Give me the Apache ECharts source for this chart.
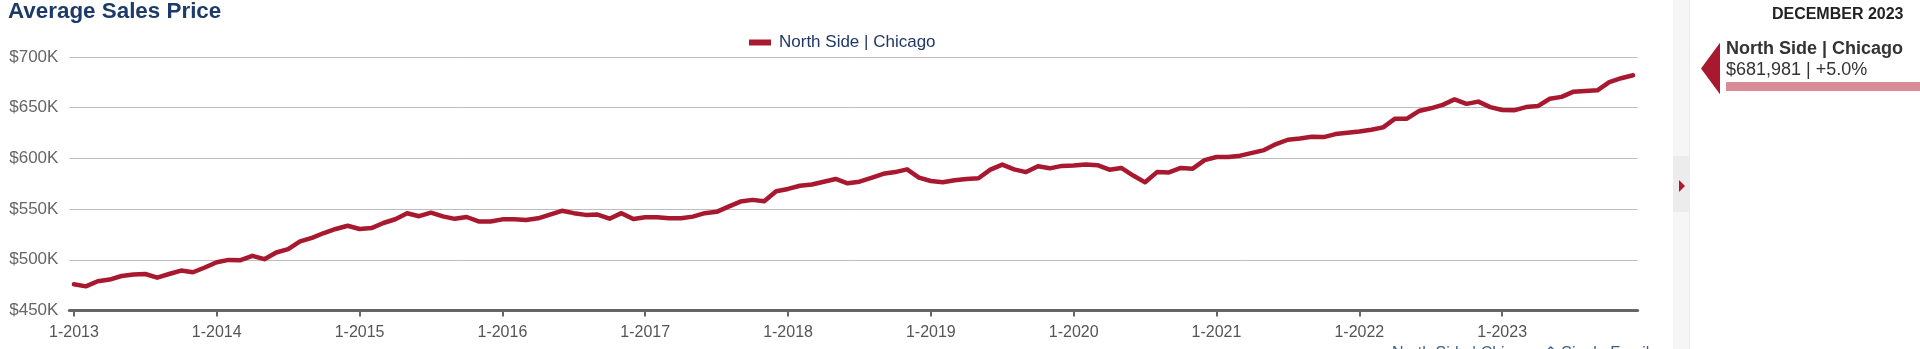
<!DOCTYPE html>
<html>
<head>
<meta charset="utf-8">
<script src="https://cdn.jsdelivr.net/npm/echarts@6/dist/echarts.min.js"></script>
<style>
html,body{margin:0;padding:0;background:#fff;}
#c{width:1920px;height:349px;}
</style>
</head>
<body>
<div id="c"></div>
<script>
// ---- data ----
const seriesName = 'North Side | Chicago';
const prices2013 = [475800, 473800, 478800, 480500, 484000, 485400, 486000, 482400, 486000, 489400, 487700, 492400];
const prices2014 = [497600, 499900, 499600, 503900, 500600, 507200, 510500, 518100, 521700, 526400, 530400, 533600];
const prices2015 = [530400, 531300, 536300, 540000, 545900, 543000, 546500, 542800, 540400, 542200, 537800, 537800];
const prices2016 = [539900, 539900, 539200, 540900, 544600, 548300, 546000, 544300, 544600, 540500, 546000, 540200];
const prices2017 = [541900, 541900, 540900, 540900, 542600, 546000, 547300, 552400, 557400, 559100, 557800, 567600];
const prices2018 = [569900, 573000, 574300, 577000, 579700, 575400, 577000, 580800, 584800, 586500, 589200, 581100];
const prices2019 = [577700, 576400, 578400, 579700, 580400, 588900, 593900, 589200, 586500, 592300, 590200, 592600];
const prices2020 = [592900, 593900, 593300, 588900, 590600, 583100, 576400, 586500, 586200, 590600, 589900, 598300];
const prices2021 = [601400, 601400, 602700, 605500, 608200, 614100, 618400, 619700, 621400, 621000, 624000, 625300];
const prices2022 = [626600, 628300, 630600, 639200, 639200, 646700, 649400, 652800, 658200, 653800, 656000, 650600];
const prices2023 = [647700, 647400, 650600, 651600, 658800, 660700, 665800, 666400, 667100, 675300, 679100, 681981];

const xTickMonths = [0, 12, 24, 36, 48, 60, 72, 84, 96, 108, 120];
const xTickLabels = ['1-2013', '1-2014', '1-2015', '1-2016', '1-2017', '1-2018', '1-2019', '1-2020', '1-2021', '1-2022', '1-2023'];
const yTickValues = [450000, 500000, 550000, 600000, 650000, 700000];
const yTickLabels = ['$450K', '$500K', '$550K', '$600K', '$650K', '$700K'];

const latestMonthLabel = 'DECEMBER 2023';
const latestChangeText = '+5.0%';
const filterText = 'North Side | Chicago \u21D5 Single Family';

// ---- build ----
const prices = [].concat(prices2013, prices2014, prices2015, prices2016, prices2017,
  prices2018, prices2019, prices2020, prices2021, prices2022, prices2023);
const seriesData = prices.map((v, i) => [i, v]);
const lastValue = prices[prices.length - 1];
const lastValueText = '$' + lastValue.toLocaleString('en-US') + ' | ' + latestChangeText;

const FONT = '"Liberation Sans", Arial, Helvetica, sans-serif';
const RED = '#a8192f';

const chart = echarts.init(document.getElementById('c'), null, {renderer: 'canvas'});
chart.setOption({
  backgroundColor: '#fff',
  animation: false,
  textStyle: {fontFamily: FONT},
  title: {
    text: 'Average Sales Price',
    left: 8, top: 0, padding: [1, 0, 0, 0],
    textStyle: {fontFamily: FONT, fontSize: 22.4, fontWeight: 'bold', color: '#1c3b69'}
  },
  legend: {
    data: [seriesName],
    left: 744, top: 29,
    icon: 'rect', itemWidth: 22, itemHeight: 6,
    textStyle: {fontFamily: FONT, fontSize: 17, color: '#1f3864', padding: [0, 0, 0, 3]}
  },
  grid: {left: 69.4, right: 282.4, top: 57, bottom: 38.5, containLabel: false, outerBoundsMode: 'none'},
  xAxis: {
    type: 'value', min: -0.38, max: 131.38,
    splitLine: {show: false},
    axisLine: {show: true, onZero: false, lineStyle: {color: '#666', width: 3}},
    axisTick: {show: true, customValues: xTickMonths, length: 6, lineStyle: {color: '#666', width: 2}},
    axisLabel: {
      customValues: xTickMonths,
      formatter: v => xTickLabels[xTickMonths.indexOf(Math.round(v))] || '',
      fontFamily: FONT, fontSize: 16, color: '#555', margin: 14
    }
  },
  yAxis: {
    type: 'value', min: 450000, max: 700000, interval: 50000,
    axisLine: {show: false}, axisTick: {show: false},
    splitLine: {show: true, lineStyle: {color: '#bdbdbd', width: 1}},
    axisLabel: {
      formatter: v => yTickLabels[yTickValues.indexOf(v)] || '',
      fontFamily: FONT, fontSize: 17, color: '#666', margin: 11, padding: [9, 0, 0, 0]
    }
  },
  series: [{
    name: seriesName,
    type: 'line',
    data: seriesData,
    showSymbol: false,
    symbol: 'none',
    lineStyle: {color: RED, width: 4.5, join: 'round', cap: 'round'},
    itemStyle: {color: RED}
  }],
  graphic: [
    {type: 'rect', shape: {x: 1673, y: 0, width: 16, height: 349}, style: {fill: '#f6f6f6'}, silent: true},
    {type: 'rect', shape: {x: 1673, y: 156, width: 16, height: 56}, style: {fill: '#ececec'}, silent: true},
    {type: 'line', shape: {x1: 1689.5, y1: 0, x2: 1689.5, y2: 349}, style: {stroke: '#ebebeb', lineWidth: 1}, silent: true},
    {type: 'polygon', shape: {points: [[1679, 180], [1685, 186], [1679, 192]]}, style: {fill: '#b0182f'}, silent: true},
    {type: 'text', x: 1903.5, y: 15, style: {text: latestMonthLabel, font: 'bold 16px ' + FONT, fill: '#222', align: 'right', verticalAlign: 'middle'}, silent: true},
    {type: 'polygon', shape: {points: [[1701, 68.5], [1720, 42.7], [1720, 94.3]]}, style: {fill: RED}, silent: true},
    {type: 'text', x: 1726, y: 49.5, style: {text: seriesName, font: 'bold 18px ' + FONT, fill: '#333', align: 'left', verticalAlign: 'middle'}, silent: true},
    {type: 'text', x: 1726, y: 70, style: {text: lastValueText, font: '18px ' + FONT, fill: '#333', align: 'left', verticalAlign: 'middle'}, silent: true},
    {type: 'rect', shape: {x: 1726, y: 82, width: 194, height: 9}, style: {fill: '#d98c96'}, silent: true},
    {type: 'text', x: 1392, y: 346, style: {text: filterText, font: '16px ' + FONT, fill: '#3e5f84', align: 'left', verticalAlign: 'top'}, silent: true}
  ]
});
</script>
</body>
</html>
